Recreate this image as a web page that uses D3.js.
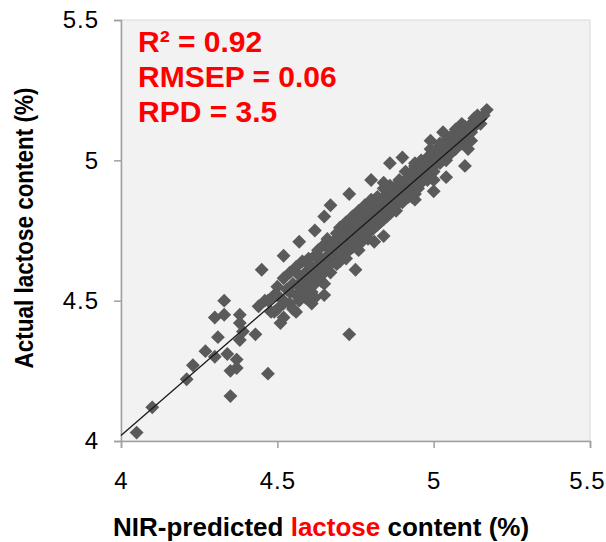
<!DOCTYPE html>
<html lang="en">
<head>
<meta charset="UTF-8">
<title>NIR lactose</title>
<script src="https://cdn.jsdelivr.net/npm/d3@7"></script>
<style>
  body { margin: 0; background: #fff; }
  text { font-family: Arial, "Liberation Sans", sans-serif; }
</style>
</head>
<body>
<script>
// NIR-predicted lactose (x) vs actual lactose (y)
const predX = [
  4.05, 4.10, 4.21, 4.23, 4.27, 4.30, 4.31, 4.30, 4.33, 4.33, 4.34, 4.35, 4.37, 4.35, 4.37,
  4.38, 4.38, 4.39, 4.38, 4.43, 4.44, 4.45, 4.46, 4.47, 4.49, 4.51, 4.49, 4.52, 4.53, 4.56,
  4.73, 4.67, 4.65, 4.62, 4.57, 4.52, 4.60, 4.75, 4.84, 4.81, 4.62, 4.65, 4.61, 4.73, 4.47,
  4.48, 4.90, 4.94, 5.00, 4.84, 4.80, 4.98, 4.93,
  5.17, 5.14, 5.09, 5.07, 5.03, 4.99, 4.99, 4.86, 4.90, 4.94, 5.11, 5.12, 5.10, 5.04, 4.94,
  4.88, 5.00,
  4.50, 4.50, 4.50, 4.52, 4.52, 4.52, 4.54, 4.54, 4.54, 4.55, 4.55, 4.56, 4.56,
  4.57, 4.57, 4.57, 4.58, 4.58, 4.58, 4.59, 4.59, 4.60, 4.60, 4.60, 4.61, 4.61, 4.61,
  4.62, 4.62, 4.62, 4.63, 4.63, 4.63, 4.64, 4.64, 4.64, 4.65, 4.65, 4.65, 4.65,
  4.66, 4.66, 4.66, 4.67, 4.67, 4.67, 4.68, 4.68, 4.68, 4.69, 4.69, 4.69,
  4.70, 4.70, 4.70, 4.70, 4.71, 4.71, 4.71, 4.72, 4.72, 4.72, 4.72, 4.73, 4.73, 4.73,
  4.74, 4.74, 4.74, 4.74, 4.75, 4.75, 4.75, 4.76, 4.76, 4.76, 4.76, 4.77, 4.77, 4.77,
  4.78, 4.78, 4.78, 4.78, 4.79, 4.79, 4.79, 4.80, 4.80, 4.80, 4.80, 4.81, 4.81, 4.81,
  4.82, 4.82, 4.82, 4.82, 4.83, 4.83, 4.83, 4.84, 4.84, 4.84, 4.84, 4.85, 4.85, 4.85,
  4.86, 4.86, 4.86, 4.86, 4.87, 4.87, 4.87, 4.88, 4.88, 4.88, 4.89, 4.89, 4.89,
  4.90, 4.90, 4.90, 4.91, 4.91, 4.91, 4.92, 4.92, 4.92, 4.93, 4.93, 4.93,
  4.94, 4.94, 4.94, 4.95, 4.95, 4.95, 4.96, 4.96, 4.96, 4.97, 4.97, 4.98, 4.98, 4.98,
  4.99, 4.99, 5.00, 5.00, 5.00, 5.01, 5.01, 5.02, 5.02, 5.02, 5.03, 5.03,
  5.04, 5.04, 5.04, 5.05, 5.05, 5.06, 5.06, 5.07, 5.07, 5.08, 5.08, 5.09, 5.09,
  5.10, 5.10, 5.11, 5.11, 5.12, 5.12, 5.13, 5.13, 5.14, 5.15, 5.15, 5.16
];
const actualY = [
  4.03, 4.12, 4.22, 4.27, 4.32, 4.30, 4.37, 4.44, 4.45, 4.50, 4.31, 4.25, 4.29, 4.16, 4.26,
  4.45, 4.42, 4.39, 4.36, 4.38, 4.48, 4.61, 4.50, 4.24, 4.52, 4.42, 4.46, 4.49, 4.54, 4.46,
  4.88, 4.84, 4.80, 4.75, 4.71, 4.66, 4.65, 4.61, 4.73, 4.71, 4.51, 4.52, 4.49, 4.38, 4.50,
  4.46, 4.87, 4.88, 4.93, 4.92, 4.93, 4.94, 4.87,
  5.18, 5.16, 5.13, 5.11, 5.10, 5.07, 5.04, 4.99, 5.01, 4.99, 5.04, 5.07, 4.98, 4.94, 4.86,
  4.82, 4.89,
  4.47, 4.55, 4.52, 4.50, 4.58, 4.44, 4.53, 4.49, 4.60, 4.56, 4.47, 4.52, 4.62,
  4.55, 4.50, 4.59, 4.57, 4.53, 4.64, 4.60, 4.51, 4.58, 4.55, 4.63, 4.62, 4.57, 4.53,
  4.60, 4.66, 4.56, 4.63, 4.59, 4.68, 4.61, 4.65, 4.57, 4.64, 4.70, 4.60, 4.56,
  4.66, 4.62, 4.72, 4.68, 4.63, 4.60, 4.65, 4.71, 4.67, 4.69, 4.63, 4.74,
  4.72, 4.67, 4.64, 4.76, 4.70, 4.66, 4.73, 4.74, 4.69, 4.65, 4.78, 4.71, 4.75, 4.68,
  4.76, 4.72, 4.80, 4.69, 4.74, 4.78, 4.70, 4.77, 4.73, 4.82, 4.68, 4.79, 4.75, 4.71,
  4.76, 4.81, 4.84, 4.73, 4.80, 4.77, 4.72, 4.82, 4.78, 4.86, 4.75, 4.79, 4.84, 4.76,
  4.83, 4.80, 4.87, 4.77, 4.85, 4.81, 4.78, 4.82, 4.87, 4.79, 4.90, 4.86, 4.83, 4.80,
  4.88, 4.84, 4.81, 4.91, 4.85, 4.89, 4.83, 4.87, 4.91, 4.84, 4.90, 4.86, 4.93,
  4.88, 4.92, 4.85, 4.93, 4.89, 4.96, 4.90, 4.94, 4.87, 4.92, 4.96, 4.89,
  4.95, 4.91, 4.98, 4.93, 4.97, 4.90, 4.96, 4.92, 5.00, 4.98, 4.94, 4.97, 5.01, 4.93,
  4.99, 4.95, 5.02, 4.98, 4.96, 5.00, 5.04, 5.03, 4.99, 5.06, 5.01, 5.05,
  5.04, 5.07, 5.00, 5.06, 5.02, 5.05, 5.09, 5.08, 5.04, 5.07, 5.11, 5.10, 5.06,
  5.09, 5.12, 5.11, 5.08, 5.13, 5.10, 5.12, 5.15, 5.14, 5.15, 5.13, 5.16
];
// fitted line, in data units
const fitX = [4.0, 5.17];
const fitY = [4.02, 5.15];

const tickValues = [4, 4.5, 5, 5.5];
const tickLabels = ["4", "4.5", "5", "5.5"];
const statLines = ["R\u00B2 = 0.92", "RMSEP = 0.06", "RPD = 3.5"];

const W = 606, H = 542;
const svg = d3.select("body").append("svg").attr("width", W).attr("height", H);

const x = d3.scaleLinear().domain([4, 5.5]).range([121, 590]);
const y = d3.scaleLinear().domain([4, 5.5]).range([441, 20]);

// plot area
svg.append("rect")
  .attr("x", x(4)).attr("y", y(5.5))
  .attr("width", x(5.5) - x(4)).attr("height", y(4) - y(5.5))
  .attr("fill", "#f2f2f2").attr("stroke", "#d9d9d9").attr("stroke-width", 1);

// axes
const fmt = (d) => tickLabels[tickValues.indexOf(d)];
const gx = svg.append("g").attr("transform", `translate(0,${y(4)})`)
  .call(d3.axisBottom(x).tickValues(tickValues).tickFormat(fmt).tickSize(7).tickPadding(24));
const gy = svg.append("g").attr("transform", `translate(${x(4)},0)`)
  .call(d3.axisLeft(y).tickValues(tickValues).tickFormat(fmt).tickSize(7).tickPadding(15));
[gx, gy].forEach(g => {
  g.select(".domain").attr("stroke", "#a0a0a0").attr("stroke-width", 1.5);
  g.selectAll(".tick line").attr("stroke", "#a0a0a0").attr("stroke-width", 1.5);
  g.selectAll(".tick text").attr("font-size", 24).attr("fill", "#000")
    .attr("letter-spacing", 1).style("font-family", "Arial, 'Liberation Sans', sans-serif");
});
// keep the last x label inside the window
gx.selectAll(".tick text").filter(d => d === 5.5).attr("dx", -3);

// points (diamonds = rotated squares)
const diamond = d3.symbol().type(d3.symbolSquare).size(96);
svg.append("g").selectAll("path")
  .data(d3.range(predX.length))
  .join("path")
  .attr("d", diamond)
  .attr("transform", i => `translate(${x(predX[i])},${y(actualY[i])}) rotate(45)`)
  .attr("fill", "#5a5a5a");

// regression line
svg.append("line")
  .attr("x1", x(fitX[0])).attr("y1", y(fitY[0]))
  .attr("x2", x(fitX[1])).attr("y2", y(fitY[1]))
  .attr("stroke", "#1a1a1a").attr("stroke-width", 1.3);

// stats text
svg.append("g").selectAll("text")
  .data(statLines)
  .join("text")
  .attr("x", 138)
  .attr("y", (d, i) => 52 + i * 34.8)
  .attr("font-size", 30).attr("font-weight", "bold").attr("fill", "#ff0000")
  .text(d => d);

// axis titles
const xt = svg.append("text")
  .attr("x", 113).attr("y", 536)
  .attr("font-size", 26).attr("font-weight", "bold").attr("fill", "#000");
xt.append("tspan").text("NIR-predicted ");
xt.append("tspan").attr("fill", "#ff0000").text("lactose");
xt.append("tspan").text(" content (%)");

svg.append("text")
  .attr("transform", "translate(33,228) rotate(-90)")
  .attr("text-anchor", "middle")
  .attr("font-size", 25).attr("font-weight", "bold").attr("fill", "#000")
  .attr("textLength", 281).attr("lengthAdjust", "spacingAndGlyphs")
  .text("Actual lactose content (%)");
</script>
</body>
</html>
